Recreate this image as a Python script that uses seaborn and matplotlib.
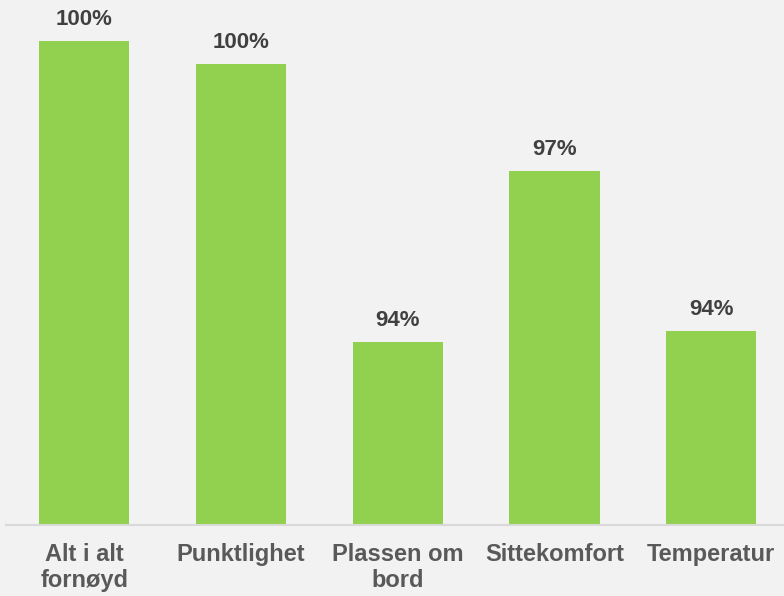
import matplotlib
matplotlib.use("Agg")
import matplotlib.pyplot as plt
import seaborn as sns
import pandas as pd

categories = ["Alt i alt\nfornøyd", "Punktlighet", "Plassen om\nbord", "Sittekomfort", "Temperatur"]
values = [100.0, 99.52, 93.78, 97.31, 94.01]

sns.set_theme(style="white")
plt.rcParams['font.family'] = ['Liberation Sans', 'DejaVu Sans']

bg = "#f2f2f2"
fig = plt.figure(figsize=(7.84, 5.96), dpi=100, facecolor=bg)
ax = fig.add_axes([6 / 784, 71 / 596, 778 / 784, 525 / 596])
ax.set_facecolor(bg)

df = pd.DataFrame({"cat": categories, "val": values})
sns.barplot(data=df, x="cat", y="val", color="#92d050", width=0.575, ax=ax,
            saturation=1, linewidth=0, edgecolor="none")

ax.set_ylim(90, 90 + 525 / 48.4)
ax.set_xlim(-0.5, 4.5 - 5.5 / 156.6)
for p, v in zip(ax.patches, values):
    ax.annotate(f"{round(v):.0f}%", (p.get_x() + p.get_width() / 2, p.get_height()),
                xytext=(0, 8), textcoords="offset points", ha="center", va="bottom",
                fontsize=16, fontweight="bold", color="#404040", annotation_clip=False)

for s in ["top", "right", "left"]:
    ax.spines[s].set_visible(False)
ax.spines["bottom"].set_color("#d9d9d9")
ax.spines["bottom"].set_linewidth(1.5)
ax.set_yticks([])
ax.set_xlabel("")
ax.set_ylabel("")
ax.tick_params(axis="x", length=0, pad=13)
for t in ax.get_xticklabels():
    t.set_fontsize(17)
    t.set_fontweight("bold")
    t.set_color("#595959")
    t.set_linespacing(1.15)

fig.savefig("out.png", dpi=100, facecolor=bg)
